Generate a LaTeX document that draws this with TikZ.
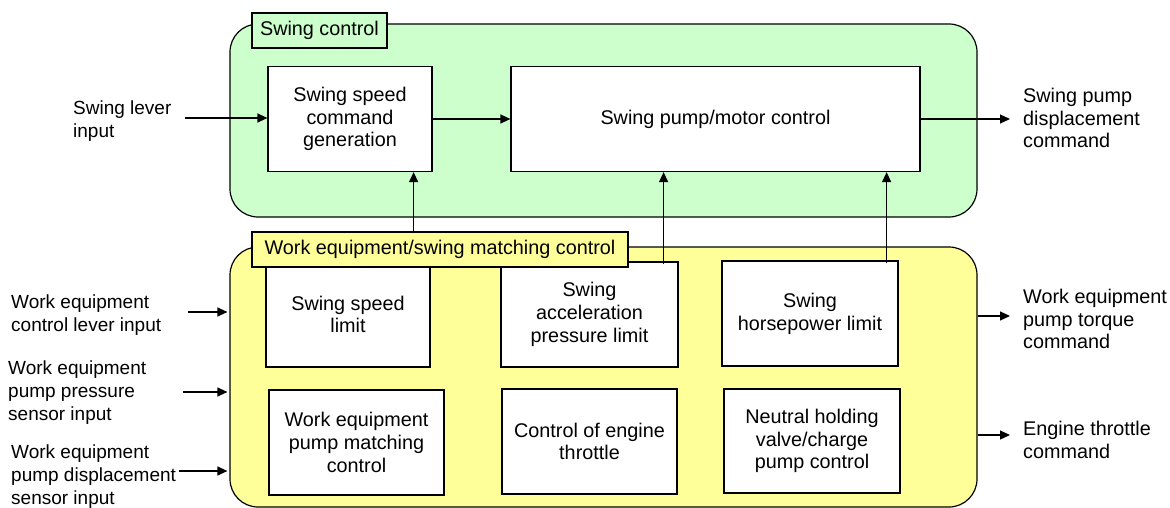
\documentclass[tikz,border=0pt]{standalone}
\usepackage{fontspec}
\setmainfont{Liberation Sans}
\usetikzlibrary{arrows.meta,positioning,calc}
\definecolor{swinggreen}{RGB}{204,255,204}
\definecolor{matchyellow}{RGB}{255,255,153}
\newcommand{\fs}{\fontsize{19.8}{22.8}\selectfont}
\newcommand{\fsl}{\fontsize{19}{23}\selectfont}
\tikzset{group/.style={draw,line width=1.2pt,rounded corners=28pt,inner sep=0pt},tag/.style={draw,line width=1.2pt,inner sep=0pt,minimum height=35pt,font=\fs},block/.style={draw,fill=white,line width=1.2pt,align=center,inner sep=0pt,minimum height=105pt,font=\fs},sig/.style={align=left,inner sep=0pt,anchor=west,font=\fs},insig/.style={sig,font=\fsl},edge/.style={-{Triangle[length=10pt,width=9pt]},line width=1.2pt}}

\begin{document}
\begin{tikzpicture}[x=1pt,y=-1pt]
\useasboundingbox (0,0) rectangle (1170,508);
% swing control group
\node[group,fill=swinggreen,minimum width=747pt,minimum height=193pt] (swing) at (603.5,120.5) {};
\node[tag,fill=swinggreen,minimum width=135pt] (swingtag) at (319.5,30.5) {Swing control};
\node[block,minimum width=164pt] (cmdgen) at (350,119) {Swing speed\\command\\generation};
\node[block,minimum width=409pt] (pumpctrl) at (715.5,119) {Swing pump/motor control};
% matching control group
\node[group,fill=matchyellow,minimum width=747pt,minimum height=260pt] (match) at (603.5,377) {};
\node[block,minimum width=164pt] (speedlim) at (348,314.5) {Swing speed\\limit};
\node[block,minimum width=177pt] (accellim) at (589.5,314.5) {Swing\\acceleration\\pressure limit};
\node[block,minimum width=176pt] (hplim) at (810,313.5) {Swing\\horsepower limit};
\node[block,minimum width=175pt] (pumpmatch) at (356.5,442.5) {Work equipment\\pump matching\\control};
\node[block,minimum width=175pt] (throttle) at (589.5,441.5) {Control of engine\\throttle};
\node[block,minimum width=176pt,minimum height=104pt] (neutral) at (812,441) {Neutral holding\\valve/charge\\pump control};
\node[tag,fill=matchyellow,minimum width=376pt] (matchtag) at (440,249.5) {Work equipment/swing matching control};
% signals
\node[insig] (leverin) at (73,121) {Swing lever\\input};
\node[sig] (pumpcmd) at (1023,118) {Swing pump\\displacement\\command};
\node[insig] (wlever) at (11,315) {Work equipment\\control lever input};
\node[insig] (wpress) at (8,393) {Work equipment\\pump pressure\\sensor input};
\node[insig] (wdisp) at (11,477) {Work equipment\\pump displacement\\sensor input};
\node[sig] (torqcmd) at (1023,319) {Work equipment\\pump torque\\command};
\node[sig] (thrcmd) at (1023,440) {Engine throttle\\command};
\coordinate (leverstart) at (185,118);
\coordinate (pumpend) at (1010,119);
\coordinate (wleverstart) at (188,312);
\coordinate (wpressstart) at (183,392);
\coordinate (wdispstart) at (179,471);
\coordinate (torqend) at (1010,316);
\coordinate (thrend) at (1010,435);
\draw[edge] (leverstart)--(leverstart -| cmdgen.west);
\draw[edge] (cmdgen)--(pumpctrl);
\draw[edge] (pumpend -| pumpctrl.east)--(pumpend);
\draw[edge] ([xshift=-19pt]cmdgen.south east |- matchtag.north)--([xshift=-19pt]cmdgen.south east);
\draw[edge] ([xshift=-15pt,yshift=-3pt]accellim.north east)--([xshift=-15pt]accellim.north east |- pumpctrl.south);
\draw[edge] ([xshift=-12pt,yshift=-3pt]hplim.north east)--([xshift=-12pt]hplim.north east |- pumpctrl.south);
\draw[edge] (wleverstart)--([xshift=-2pt]wleverstart -| match.west);
\draw[edge] (wpressstart)--([xshift=-2pt]wpressstart -| match.west);
\draw[edge] (wdispstart)--([xshift=-2pt]wdispstart -| match.west);
\draw[edge] (torqend -| match.east)--(torqend);
\draw[edge] (thrend -| match.east)--(thrend);
\end{tikzpicture}
\end{document}
